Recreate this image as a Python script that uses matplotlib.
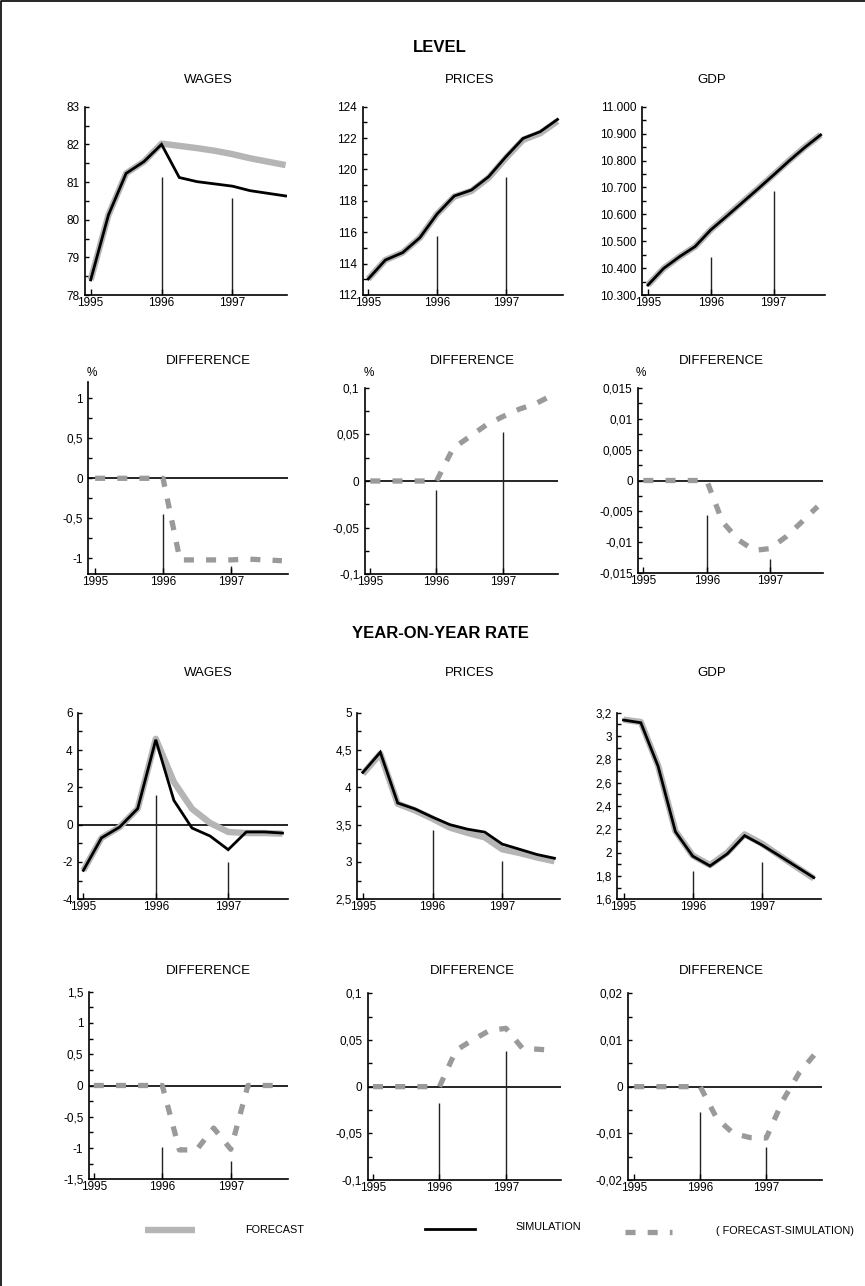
import matplotlib
matplotlib.use("Agg")
import matplotlib.pyplot as plt
from matplotlib.lines import Line2D
from matplotlib.ticker import MultipleLocator, FuncFormatter

plt.rcParams['font.family'] = ['Liberation Sans', 'DejaVu Sans']

# ---------------------------------------------------------------- data
quarters = [1995.0, 1995.25, 1995.5, 1995.75,
            1996.0, 1996.25, 1996.5, 1996.75,
            1997.0, 1997.25, 1997.5, 1997.75]
year_ticks = [1995, 1996, 1997]
year_labels = ["1995", "1996", "1997"]
marker_years = [1996, 1997]

# levels
wages_level_forecast = [78.40, 80.12, 81.23, 81.54, 82.02, 81.96, 81.90, 81.83, 81.74, 81.63, 81.54, 81.45]
wages_level_simulation = [78.40, 80.12, 81.23, 81.54, 82.00, 81.12, 81.01, 80.95, 80.89, 80.77, 80.70, 80.63]
prices_level_forecast = [113.02, 114.23, 114.70, 115.65, 117.16, 118.27, 118.63, 119.47, 120.73, 121.89, 122.31, 123.08]
prices_level_simulation = [113.02, 114.23, 114.70, 115.65, 117.16, 118.31, 118.69, 119.54, 120.81, 121.98, 122.41, 123.19]
gdp_level_forecast = [10337, 10399, 10442, 10480, 10542, 10593, 10644, 10695, 10747, 10800, 10850, 10895]
gdp_level_simulation = [10337, 10399, 10442, 10480, 10542, 10592, 10643, 10694, 10746, 10799, 10849, 10895]

# level differences, %
wages_level_diff = [0, 0, 0, 0, 0, -1.02, -1.02, -1.02, -1.02, -1.01, -1.02, -1.03]
prices_level_diff = [0, 0, 0, 0, 0, 0.035, 0.0475, 0.060, 0.069, 0.077, 0.083, 0.092]
gdp_level_diff = [0, 0, 0, 0, 0, -0.0067, -0.0096, -0.0113, -0.0110, -0.0091, -0.0067, -0.0042]

# year-on-year rates
wages_rate_forecast = [-2.45, -0.71, -0.13, 0.86, 4.60, 2.29, 0.85, 0.09, -0.39, -0.45, -0.45, -0.48]
wages_rate_simulation = [-2.45, -0.71, -0.13, 0.86, 4.55, 1.30, -0.18, -0.61, -1.34, -0.39, -0.39, -0.45]
prices_rate_forecast = [4.18, 4.45, 3.78, 3.69, 3.58, 3.46, 3.39, 3.33, 3.17, 3.12, 3.06, 3.01]
prices_rate_simulation = [4.20, 4.47, 3.79, 3.71, 3.60, 3.50, 3.44, 3.40, 3.24, 3.17, 3.10, 3.05]
gdp_rate_forecast = [3.14, 3.12, 2.745, 2.185, 1.975, 1.893, 2.00, 2.157, 2.077, 1.977, 1.877, 1.779]
gdp_rate_simulation = [3.137, 3.114, 2.74, 2.18, 1.97, 1.886, 1.99, 2.146, 2.066, 1.974, 1.88, 1.786]

# rate differences, points
wages_rate_diff = [0, 0, 0, 0, 0, -1.03, -1.03, -0.68, -1.02, 0, 0, 0]
prices_rate_diff = [0, 0, 0, 0, 0, 0.039, 0.050, 0.060, 0.0625, 0.041, 0.040, 0.0386]
gdp_rate_diff = [0, 0, 0, 0, 0, -0.0068, -0.0100, -0.0109, -0.0110, -0.0030, 0.0030, 0.0072]

# heights of the year-boundary markers
wages_level_marks = [81.14, 80.58]
prices_level_marks = [115.76, 119.54]
gdp_level_marks = [10442, 10687]
wages_level_diff_marks = [-0.44, -1.10]
prices_level_diff_marks = [-0.010, 0.0529]
gdp_level_diff_marks = [-0.0055, -0.0127]
wages_rate_marks = [1.57, -2.0]
prices_rate_marks = [3.43, 3.01]
gdp_rate_marks = [1.843, 1.923]
wages_rate_diff_marks = [-0.98, -1.21]
prices_rate_diff_marks = [-0.017, 0.038]
gdp_rate_diff_marks = [-0.0054, -0.013]

# ---------------------------------------------------------------- style
W, H = 865, 1286
FORECAST_C = "#b5b5b5"
DIFF_C = "#9a9a9a"
TICK_FS = 8.5
TITLE_FS = 9.5
HEAD_FS = 12
LEGEND_FS = 7.8

fig = plt.figure(figsize=(W / 100, H / 100), dpi=100)
# frame along the left and top edges
fig.add_artist(Line2D([0.0012, 0.0012, 1.0], [0.0, 0.9992, 0.9992], transform=fig.transFigure,
                      color="black", lw=1.2))


def px(x, y):
    return x / W, 1 - y / H


def make_axes(left, top, right, bottom):
    return fig.add_axes([left / W, 1 - bottom / H, (right - left) / W, (bottom - top) / H])


def comma_fmt(decimals, thousands=False):
    def f(v, pos):
        if thousands:
            s = f"{v:,.0f}".replace(",", ".")
        else:
            s = f"{v:.{decimals}f}"
            if "." in s:
                s = s.rstrip("0").rstrip(".")
            s = s.replace(".", ",")
        if s == "-0":
            s = "0"
        return s
    return FuncFormatter(f)


def style_axes(ax, xlim, ylim, major, minor, decimals, thousands=False, zero_line=False):
    ax.set_xlim(*xlim)
    ax.set_ylim(*ylim)
    for s in ("top", "right"):
        ax.spines[s].set_visible(False)
    for s in ("left", "bottom"):
        ax.spines[s].set_linewidth(1.2)
    ax.set_xticks(year_ticks)
    ax.set_xticklabels(year_labels)
    ax.yaxis.set_major_locator(MultipleLocator(major))
    ax.yaxis.set_minor_locator(MultipleLocator(minor))
    ax.yaxis.set_major_formatter(comma_fmt(decimals, thousands))
    ax.tick_params(axis="x", direction="in", length=4, width=1, pad=1.5, labelsize=TICK_FS)
    ax.tick_params(axis="y", which="major", direction="in", length=3, width=1, pad=4, labelsize=TICK_FS)
    ax.tick_params(axis="y", which="minor", direction="in", length=3, width=1)
    ax.tick_params(axis="x", which="minor", bottom=False)
    if zero_line:
        ax.axhline(0, color="black", lw=1.2, zorder=1)


def draw_marks(ax, heights):
    ax.vlines(marker_years, ax.get_ylim()[0], heights, color="#222222", lw=1.0, zorder=1)


def level_panel(box, xlim, ylim, major, minor, dec, fc, sim, marks, thousands=False, zero_line=False):
    ax = make_axes(*box)
    style_axes(ax, xlim, ylim, major, minor, dec, thousands, zero_line)
    draw_marks(ax, marks)
    ax.plot(quarters, fc, color=FORECAST_C, lw=4.6, solid_capstyle="butt", zorder=2)
    ax.plot(quarters, sim, color="black", lw=2.0, solid_joinstyle="miter", zorder=3)
    return ax


def diff_panel(box, xlim, ylim, major, minor, dec, diff, marks):
    ax = make_axes(*box)
    style_axes(ax, xlim, ylim, major, minor, dec, zero_line=True)
    draw_marks(ax, marks)
    ax.plot(quarters, diff, color=DIFF_C, lw=3.8, linestyle=(0, (1.9, 2.3)),
            dash_capstyle="butt", zorder=3)
    return ax


# ---------------------------------------------------------------- LEVEL
fig.text(*px(440, 47), "LEVEL", ha="center", va="center", fontsize=HEAD_FS, fontweight="bold")
fig.text(*px(208, 80), "WAGES", ha="center", va="center", fontsize=TITLE_FS)
fig.text(*px(470, 80), "PRICES", ha="center", va="center", fontsize=TITLE_FS)
fig.text(*px(712, 80), "GDP", ha="center", va="center", fontsize=TITLE_FS)

level_panel((85, 106.7, 287, 295), (1994.92, 1997.77), (78, 83), 1, 0.5, 0,
            wages_level_forecast, wages_level_simulation, wages_level_marks)
level_panel((362.7, 106.7, 563, 295), (1994.92, 1997.83), (112, 124), 2, 1, 0,
            prices_level_forecast, prices_level_simulation, prices_level_marks)
level_panel((642.3, 106.7, 825, 295), (1994.91, 1997.82), (10300, 11000), 100, 50, 0,
            gdp_level_forecast, gdp_level_simulation, gdp_level_marks, thousands=True)

for x, label_x in ((208, 92), (472, 369), (721, 641)):
    fig.text(*px(x, 361), "DIFFERENCE", ha="center", va="center", fontsize=TITLE_FS)
    fig.text(*px(label_x, 373), "%", ha="center", va="center", fontsize=TICK_FS)

diff_panel((88.3, 382.3, 288, 574.3), (1994.90, 1997.84), (-1.2, 1.2), 0.5, 0.25, 1,
           wages_level_diff, wages_level_diff_marks)
diff_panel((365, 387.7, 558.3, 574.3), (1994.92, 1997.84), (-0.1, 0.1), 0.05, 0.025, 2,
           prices_level_diff, prices_level_diff_marks)
diff_panel((638.3, 387.7, 823.3, 573.3), (1994.92, 1997.84), (-0.015, 0.015), 0.005, 0.0025, 3,
           gdp_level_diff, gdp_level_diff_marks)

# ---------------------------------------------------------------- YEAR-ON-YEAR RATE
fig.text(*px(440, 633), "YEAR-ON-YEAR RATE", ha="center", va="center", fontsize=HEAD_FS, fontweight="bold")
fig.text(*px(208, 673), "WAGES", ha="center", va="center", fontsize=TITLE_FS)
fig.text(*px(470, 673), "PRICES", ha="center", va="center", fontsize=TITLE_FS)
fig.text(*px(712, 673), "GDP", ha="center", va="center", fontsize=TITLE_FS)

level_panel((78.3, 712.7, 288.3, 899.3), (1994.93, 1997.83), (-4, 6), 2, 1, 0,
            wages_rate_forecast, wages_rate_simulation, wages_rate_marks, zero_line=True)
level_panel((357.3, 712.7, 560, 899.3), (1994.92, 1997.83), (2.5, 5), 0.5, 0.25, 1,
            prices_rate_forecast, prices_rate_simulation, prices_rate_marks)
level_panel((617.3, 712.7, 820.7, 899.3), (1994.91, 1997.85), (1.6, 3.2), 0.2, 0.1, 1,
            gdp_rate_forecast, gdp_rate_simulation, gdp_rate_marks)

for x in (208, 472, 721):
    fig.text(*px(x, 971), "DIFFERENCE", ha="center", va="center", fontsize=TITLE_FS)

diff_panel((89, 991.7, 288.3, 1179.3), (1994.93, 1997.84), (-1.5, 1.5), 0.5, 0.25, 1,
           wages_rate_diff, wages_rate_diff_marks)
diff_panel((367.7, 993.3, 561, 1180), (1994.92, 1997.83), (-0.1, 0.1), 0.05, 0.025, 2,
           prices_rate_diff, prices_rate_diff_marks)
diff_panel((628.3, 993.3, 821.7, 1180), (1994.91, 1997.84), (-0.02, 0.02), 0.01, 0.005, 2,
           gdp_rate_diff, gdp_rate_diff_marks)

# ---------------------------------------------------------------- legend
fig.add_artist(Line2D([145 / W, 195 / W], [1 - 1230 / H] * 2, transform=fig.transFigure,
                      color=FORECAST_C, lw=4.6, solid_capstyle="butt"))
fig.text(*px(245, 1230), "FORECAST", ha="left", va="center", fontsize=LEGEND_FS)
fig.add_artist(Line2D([425 / W, 475 / W], [1 - 1229 / H] * 2, transform=fig.transFigure,
                      color="black", lw=2.0))
fig.text(*px(515, 1227), "SIMULATION", ha="left", va="center", fontsize=LEGEND_FS)
fig.add_artist(Line2D([625 / W, 672 / W], [1 - 1232 / H] * 2, transform=fig.transFigure,
                      color=DIFF_C, lw=3.8, linestyle=(0, (1.9, 2.3)), dash_capstyle="butt"))
fig.text(*px(716, 1231), "( FORECAST-SIMULATION)", ha="left", va="center", fontsize=LEGEND_FS)

fig.savefig("out.png", dpi=100)
